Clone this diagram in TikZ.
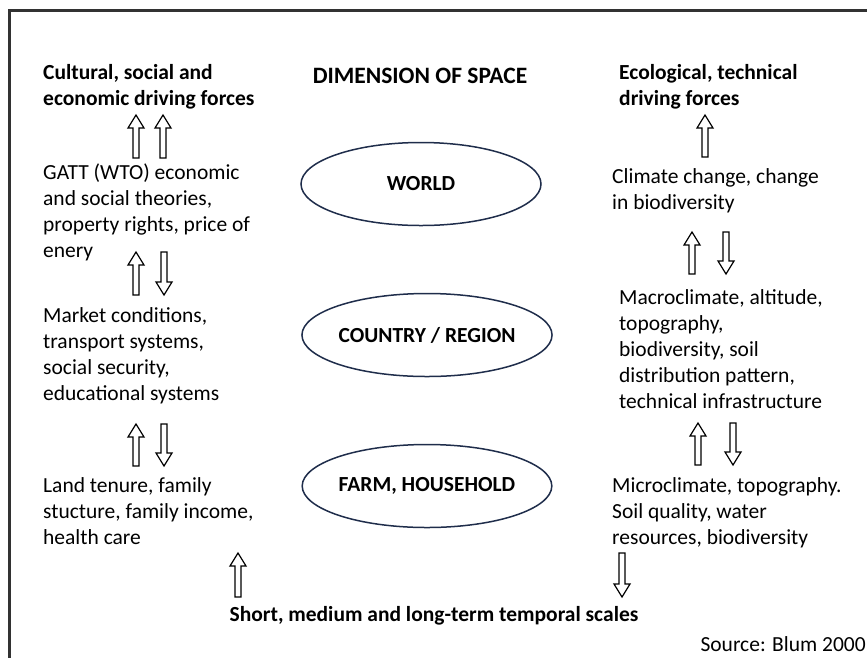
\documentclass[tikz,border=0pt]{standalone}
\usepackage{fontspec}
\setmainfont{Carlito}
\usetikzlibrary{shapes.geometric}
\definecolor{ellcol}{RGB}{31,45,75}
\definecolor{framecol}{RGB}{50,50,50}
\newcommand\HUp[3]{\draw[harrow] (#1-3,#3) -- (#1-3,#2+13) -- (#1-8,#2+13) -- (#1,#2) -- (#1+8,#2+13) -- (#1+3,#2+13) -- (#1+3,#3) -- cycle;}
\newcommand\HDown[3]{\draw[harrow] (#1-3,#2) -- (#1-3,#3-13) -- (#1-8,#3-13) -- (#1,#3) -- (#1+8,#3-13) -- (#1+3,#3-13) -- (#1+3,#2) -- cycle;}
\begin{document}
\begin{tikzpicture}[x=1pt,y=-1pt,
  txt/.style={anchor=north west,inner sep=0pt,align=left,font=\fontsize{21.5}{26}\selectfont},
  btxt/.style={txt,font=\fontsize{21.5}{26}\selectfont\bfseries},
  ell/.style={ellipse,draw=ellcol,line width=1.5pt,minimum width=240pt,minimum height=83pt,inner sep=0pt,font=\fontsize{21.5}{26}\selectfont\bfseries},
  harrow/.style={draw=black,fill=white,line width=1.2pt,line join=miter}]
\useasboundingbox (0,0) rectangle (867,657);
\clip (0,0) rectangle (867,657);
% frame
\draw[framecol,line width=2.5pt] (9.5,10.5) rectangle (900,700);
% left column
\node[btxt] (l1) at (43,64) {Cultural, social and\\economic driving forces};
\node[txt] (l2) at (43,164) {GATT (WTO) economic\\and social theories,\\property rights, price of\\enery};
\node[txt] (l3) at (43,307) {Market conditions,\\transport systems,\\social security,\\educational systems};
\node[txt] (l4) at (43,477) {Land tenure, family\\stucture, family income,\\health care};
% middle
\node[font=\fontsize{23.5}{28}\selectfont\bfseries,inner sep=0pt] (dim) at (420,76) {DIMENSION OF SPACE};
\node[ell] (world) at (421,184) {WORLD};
\node[ell] (country) at (427,335) {COUNTRY / REGION};
\node[ell] (farm) at (427,486) {FARM, HOUSEHOLD};
% right column
\node[btxt] (r1) at (619,64) {Ecological, technical\\driving forces};
\node[txt] (r2) at (612,168) {Climate change, change\\in biodiversity};
\node[txt] (r3) at (619,289) {Macroclimate, altitude,\\topography,\\biodiversity, soil\\distribution pattern,\\technical infrastructure};
\node[txt] (r4) at (612,477) {Microclimate, topography.\\Soil quality, water\\resources, biodiversity};
% bottom
\node[font=\fontsize{21.5}{26}\selectfont\bfseries,inner sep=0pt] (time) at (434,616) {Short, medium and long-term temporal scales};
\node[anchor=east,inner sep=0pt,font=\fontsize{21.5}{26}\selectfont] (src) at (866,644) {Source: Blum 2000};
% arrows
\HUp{136}{115}{158}
\HUp{163}{115}{158}
\HUp{136}{252}{295}
\HDown{164}{252}{295}
\HUp{136}{424}{466}
\HDown{164}{424}{466}
\HUp{705}{115}{157}
\HUp{692}{232}{274}
\HDown{726}{232}{274}
\HUp{698}{423}{465}
\HDown{733}{423}{465}
\HUp{238}{553}{597}
\HDown{622}{553}{597}
\end{tikzpicture}
\end{document}
